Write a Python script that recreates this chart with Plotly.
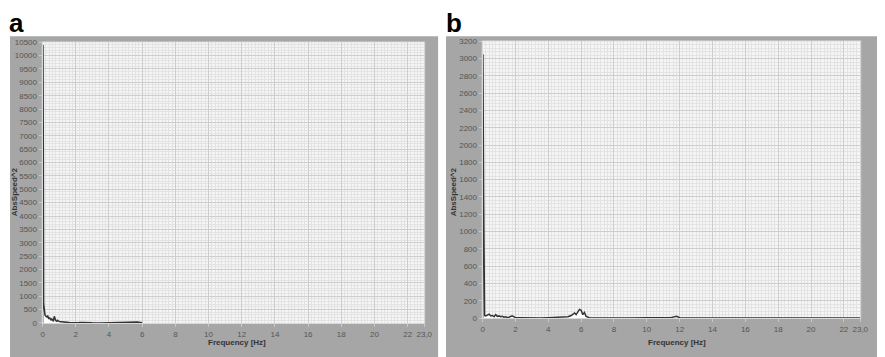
import plotly.graph_objects as go

# ---- data ----
freq_a = [0.0, 0.02, 0.04, 0.06, 0.08, 0.10, 0.14, 0.18, 0.22, 0.26, 0.30, 0.34, 0.38, 0.42,
          0.46, 0.50, 0.55, 0.60, 0.65, 0.70, 0.75, 0.80, 0.85, 0.90, 1.0, 1.1, 1.2, 1.3, 1.4,
          1.6, 1.8, 2.0, 2.2, 2.4, 2.6, 2.8, 3.0, 3.5, 4.0, 4.3, 4.6, 4.9, 5.1, 5.3, 5.5, 5.7,
          5.9, 6.0]
speed_a = [0, 10400, 6700, 720, 500, 380, 300, 260, 240, 220, 280, 180, 150, 200,
           120, 100, 160, 90, 60, 250, 120, 80, 60, 100, 50, 40, 30, 45, 20,
           15, 10, 25, 15, 20, 10, 5, 5, 3, 10, 15, 20, 30, 40, 50, 45, 35,
           20, 5]

freq_b = [0, 0.02, 0.04, 0.06, 0.08, 0.12, 0.2, 0.3, 0.4, 0.5, 0.6, 0.7, 0.8, 0.9, 1.0, 1.1,
          1.2, 1.3, 1.4, 1.5, 1.6, 1.8, 1.9, 2.0, 2.2, 2.5, 3.0, 3.5, 4.0, 4.3, 4.6, 4.8,
          5.0, 5.2, 5.4, 5.5, 5.6, 5.7, 5.8, 5.9, 6.0, 6.1, 6.2, 6.3, 6.5, 7, 8, 9, 10,
          10.5, 11, 11.3, 11.5, 11.7, 11.8, 12, 12.5, 14, 16, 18, 20, 22, 23]
speed_b = [0, 3050, 2250, 1450, 720, 30, 25, 35, 45, 25, 30, 15, 40, 20, 25, 15,
           20, 10, 15, 8, 10, 25, 12, 5, 5, 3, 3, 2, 5, 8, 15, 10,
           20, 15, 30, 45, 60, 40, 70, 100, 90, 40, 65, 20, 5, 3, 2, 2, 3,
           5, 3, 10, 8, 15, 20, 5, 2, 1, 1, 1, 1, 1, 1]

x_tickvals = [0, 2, 4, 6, 8, 10, 12, 14, 16, 18, 20, 22, 23]
x_ticktext = ["0", "2", "4", "6", "8", "10", "12", "14", "16", "18", "20", "22", "23,0"]
ya_ticks = list(range(0, 10501, 500))
yb_ticks = list(range(0, 3201, 200))

W, H = 885, 357
OFF = 8  # page body margin offset (screen = figure + 8)
GRAY = "#a6a6a6"
PLOTBG = "#f5f5f5"
FONT = "Liberation Sans, Arial"
TICKFONT = dict(family=FONT, size=8, color="#555555")

def px(x):
    return (x - OFF) / W

def py(y):
    return 1 - (y - OFF) / H

# plot areas in screen pixels
A_X, A_Y = (41, 427), (327, 39)
B_X, B_Y = (486, 868), (322, 38)

fig = go.Figure()
fig.add_trace(go.Scatter(x=freq_a, y=speed_a, mode="lines", xaxis="x", yaxis="y",
                         line=dict(color="#333333", width=1.5), fill="tozeroy",
                         fillcolor="white", showlegend=False))
fig.add_trace(go.Scatter(x=freq_b, y=speed_b, mode="lines", xaxis="x2", yaxis="y2",
                         line=dict(color="#333333", width=1.5), fill="tozeroy",
                         fillcolor="white", showlegend=False))

def xaxis(domain, anchor):
    return dict(domain=domain, anchor=anchor, range=[0, 23], tickmode="array",
                tickvals=x_tickvals, ticktext=x_ticktext, tickfont=TICKFONT, tickangle=0,
                showgrid=True, gridcolor="#cdcdcd", gridwidth=1,
                ticks="outside", ticklen=3, tickcolor="#c8c8c8",
                showline=True, linecolor="#d8d8d8", zeroline=False,
                minor=dict(tickmode="linear", tick0=0, dtick=0.2, showgrid=True,
                           gridcolor="#e3e3e3", ticks=""),
                fixedrange=True)

def yaxis(domain, anchor, rng, ticks, minor_dt):
    return dict(domain=domain, anchor=anchor, range=rng, tickmode="array",
                tickvals=ticks, ticktext=[str(t) for t in ticks], tickfont=TICKFONT,
                showgrid=True, gridcolor="#cdcdcd", gridwidth=1,
                ticks="outside", ticklen=3, tickcolor="#c8c8c8",
                showline=True, linecolor="#d8d8d8", zeroline=False,
                minor=dict(tickmode="linear", tick0=0, dtick=minor_dt, showgrid=True,
                           gridcolor="#e3e3e3", ticks=""),
                fixedrange=True)

def rect(x0, x1, y0, y1, color):
    return dict(type="rect", xref="paper", yref="paper", x0=max(px(x0), 0), x1=min(px(x1), 1),
                y0=max(py(y1), 0), y1=min(py(y0), 1), fillcolor=color,
                line=dict(width=0), layer="below")

def note(text, x, y, size, color="#333333", angle=0, xanchor="center"):
    return dict(text=text, x=px(x), y=py(y), xref="paper", yref="paper",
                xanchor=xanchor, yanchor="middle", showarrow=False, textangle=angle,
                font=dict(family=FONT, size=size, color=color))

fig.update_layout(
    width=W, height=H,
    margin=dict(l=0, r=0, t=0, b=0),
    paper_bgcolor="white",
    plot_bgcolor=PLOTBG,
    xaxis=xaxis([px(A_X[0]), px(A_X[1])], "y"),
    yaxis=yaxis([py(A_Y[0]), py(A_Y[1])], "x", [0, 10500], ya_ticks, 100),
    xaxis2=xaxis([px(B_X[0]), px(B_X[1])], "y2"),
    yaxis2=yaxis([py(B_Y[0]), py(B_Y[1])], "x2", [0, 3200], yb_ticks, 40),
    shapes=[
        rect(0, 441, 33, 400, GRAY),
        rect(449, 900, 33, 400, GRAY),
        rect(A_X[0] - 1, A_X[1] + 1, A_Y[1] - 1, A_Y[0] + 1, "#c9c9c9"),
        rect(B_X[0] - 1, B_X[1] + 1, B_Y[1] - 1, B_Y[0] + 1, "#c9c9c9"),
        rect(A_X[0], A_X[1], A_Y[1], A_Y[0], PLOTBG),
        rect(B_X[0], B_X[1], B_Y[1], B_Y[0], PLOTBG),
    ],
    annotations=[
        note("<b>a</b>", 5, 19, 26, color="black", xanchor="left"),
        note("<b>b</b>", 447, 19, 26, color="black", xanchor="left"),
        note("<b>Frequency [Hz]</b>", 238, 347, 8),
        note("<b>Frequency [Hz]</b>", 683, 347, 8),
        note("<b>AbsSpeed^2</b>", 12, 192, 8, angle=-90),
        note("<b>AbsSpeed^2</b>", 456, 192, 8, angle=-90),
    ],
)

fig.write_html("out.html")
